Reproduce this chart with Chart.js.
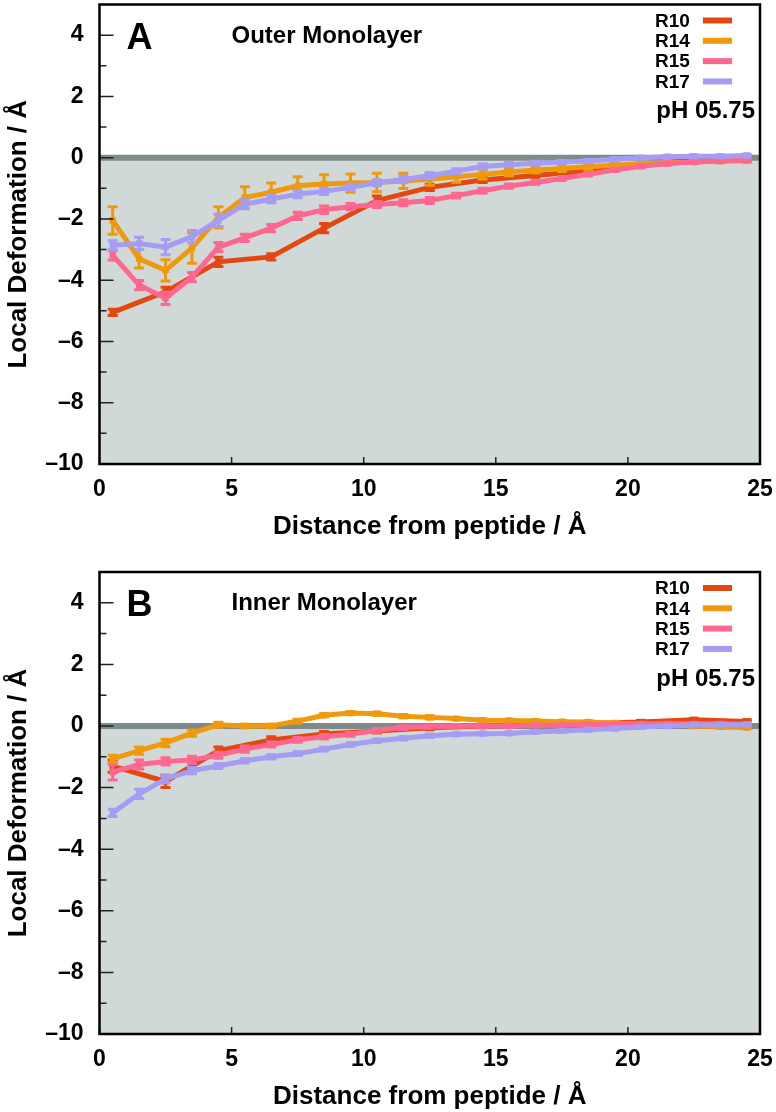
<!DOCTYPE html>
<html>
<head>
<meta charset="utf-8">
<script src="https://cdn.jsdelivr.net/npm/chart.js@4.4.0/dist/chart.umd.min.js"></script>
<style>
  body { margin: 0; background: #fff; width: 776px; height: 1112px; overflow: hidden; }
  canvas { position: absolute; left: 0; }
  #chartA { top: 0; }
  #chartB { top: 556px; }
</style>
</head>
<body>
<canvas id="chartA" width="776" height="556"></canvas>
<canvas id="chartB" width="776" height="556"></canvas>
<script>
// series names and colours
const seriesNames = ['R10', 'R14', 'R15', 'R17'];
const seriesColors = ['#e2480f', '#ef9a0c', '#fe6890', '#a59cf3'];

// distance from peptide (Å)
const distFine = [0.5, 1.5, 2.5, 3.5, 4.5, 5.5, 6.5, 7.5, 8.5, 9.5, 10.5, 11.5, 12.5,
  13.5, 14.5, 15.5, 16.5, 17.5, 18.5, 19.5, 20.5, 21.5, 22.5, 23.5, 24.5];
const distCoarse = [0.5, 2.5, 4.5, 6.5, 8.5, 10.5, 12.5, 14.5, 16.5, 18.5, 20.5, 22.5, 24.5];

// axis ticks
const xTickValues = [0, 5, 10, 15, 20, 25];
const yTickValues = [-10, -8, -6, -4, -2, 0, 2, 4];
const yMinorTicks = [-9, -7, -5, -3, -1, 1, 3];

// panel A: outer monolayer
const outerR10 = [-5.05, -4.38, -3.40, -3.24, -2.30, -1.40, -0.97, -0.73, -0.58, -0.43, -0.25, -0.10, -0.04];
const outerR10Err = [0.10, 0.15, 0.15, 0.10, 0.15, 0.15, 0.10, 0.08, 0.06, 0.05, 0.05, 0.04, 0.03];
const outerR14 = [-2.05, -3.30, -3.68, -2.95, -1.95, -1.30, -1.13, -0.92, -0.86, -0.83, -0.81, -0.76, -0.70,
  -0.62, -0.55, -0.47, -0.40, -0.35, -0.30, -0.25, -0.20, -0.17, -0.14, -0.12, -0.10];
const outerR14Err = [0.45, 0.30, 0.35, 0.50, 0.35, 0.35, 0.30, 0.30, 0.30, 0.30, 0.30, 0.25, 0.20,
  0.18, 0.15, 0.12, 0.10, 0.10, 0.08, 0.07, 0.06, 0.06, 0.05, 0.05, 0.05];
const outerR15 = [-3.19, -4.16, -4.59, -3.90, -2.92, -2.62, -2.30, -1.90, -1.70, -1.60, -1.53, -1.47, -1.40,
  -1.24, -1.08, -0.93, -0.81, -0.68, -0.54, -0.40, -0.28, -0.19, -0.14, -0.10, -0.08];
const outerR15Err = [0.15, 0.15, 0.20, 0.15, 0.15, 0.12, 0.12, 0.12, 0.12, 0.10, 0.10, 0.10, 0.10,
  0.08, 0.08, 0.07, 0.06, 0.06, 0.05, 0.05, 0.05, 0.04, 0.04, 0.03, 0.03];
const outerR17 = [-2.86, -2.80, -2.92, -2.58, -2.05, -1.52, -1.35, -1.19, -1.10, -0.97, -0.82, -0.71, -0.59,
  -0.44, -0.29, -0.23, -0.18, -0.14, -0.11, -0.05, 0.00, 0.03, 0.05, 0.05, 0.07];
const outerR17Err = [0.15, 0.20, 0.25, 0.20, 0.20, 0.15, 0.12, 0.12, 0.10, 0.10, 0.10, 0.10, 0.10,
  0.08, 0.08, 0.07, 0.06, 0.05, 0.05, 0.05, 0.04, 0.04, 0.04, 0.04, 0.04];

// panel B: inner monolayer
const innerR10 = [-1.30, -1.80, -0.80, -0.45, -0.26, -0.16, -0.06, 0.00, 0.04, 0.08, 0.13, 0.20, 0.15];
const innerR10Err = [0.20, 0.20, 0.12, 0.10, 0.08, 0.07, 0.06, 0.05, 0.05, 0.05, 0.05, 0.05, 0.05];
const innerR14 = [-1.07, -0.80, -0.55, -0.23, 0.04, 0.00, 0.00, 0.16, 0.35, 0.42, 0.40, 0.32, 0.28,
  0.24, 0.19, 0.18, 0.16, 0.14, 0.13, 0.10, 0.06, 0.03, 0.00, -0.03, -0.05];
const innerR14Err = [0.12, 0.12, 0.12, 0.10, 0.08, 0.06, 0.06, 0.06, 0.05, 0.05, 0.05, 0.05, 0.05,
  0.04, 0.04, 0.04, 0.04, 0.04, 0.04, 0.04, 0.04, 0.04, 0.04, 0.04, 0.04];
const innerR15 = [-1.50, -1.25, -1.15, -1.10, -0.95, -0.75, -0.60, -0.45, -0.35, -0.27, -0.14, -0.05, -0.02,
  -0.01, 0.00, 0.00, 0.02, 0.03, 0.05, 0.06, 0.07, 0.07, 0.07, 0.07, 0.06];
const innerR15Err = [0.25, 0.15, 0.12, 0.12, 0.10, 0.10, 0.08, 0.08, 0.07, 0.06, 0.06, 0.06, 0.05,
  0.05, 0.05, 0.05, 0.04, 0.04, 0.04, 0.04, 0.04, 0.04, 0.04, 0.04, 0.04];
const innerR17 = [-2.82, -2.20, -1.72, -1.45, -1.30, -1.13, -1.00, -0.90, -0.75, -0.60, -0.48, -0.40, -0.32,
  -0.27, -0.25, -0.24, -0.19, -0.16, -0.12, -0.08, -0.03, 0.00, 0.03, 0.03, 0.05];
const innerR17Err = [0.12, 0.15, 0.12, 0.10, 0.08, 0.07, 0.07, 0.06, 0.06, 0.05, 0.05, 0.05, 0.05,
  0.04, 0.04, 0.04, 0.04, 0.04, 0.04, 0.04, 0.04, 0.04, 0.04, 0.04, 0.04];

const FONT = "'Liberation Sans', Arial, Helvetica, sans-serif";

function toPoints(xs, ys) {
  return xs.map((x, i) => ({ x: x, y: ys[i] }));
}

// background, zero line, error bars, inner ticks, frame and labels
const panelDecor = {
  id: 'panelDecor',
  beforeDatasetsDraw(chart) {
    const { ctx, chartArea: a, scales: { y } } = chart;
    const y0 = y.getPixelForValue(0);
    ctx.save();
    ctx.fillStyle = '#d1d9d8';
    ctx.fillRect(a.left, y0, a.right - a.left, a.bottom - y0);
    ctx.strokeStyle = '#7d8b8a';
    ctx.lineWidth = 6;
    ctx.beginPath();
    ctx.moveTo(a.left, y0);
    ctx.lineTo(a.right, y0);
    ctx.stroke();
    ctx.restore();
  },
  afterDatasetDraw(chart, args) {
    const ds = chart.data.datasets[args.index];
    const { ctx, scales: { x, y } } = chart;
    ctx.save();
    ctx.strokeStyle = ds.borderColor;
    ctx.lineWidth = 3;
    ds.data.forEach((p, i) => {
      const e = ds.errors[i];
      const px = x.getPixelForValue(p.x);
      const yt = y.getPixelForValue(p.y + e);
      const yb = y.getPixelForValue(p.y - e);
      ctx.beginPath();
      ctx.moveTo(px, yt); ctx.lineTo(px, yb);
      ctx.moveTo(px - 5, yt); ctx.lineTo(px + 5, yt);
      ctx.moveTo(px - 5, yb); ctx.lineTo(px + 5, yb);
      ctx.stroke();
    });
    ctx.restore();
  },
  afterDraw(chart, args, opts) {
    const { ctx, chartArea: a, scales: { x, y } } = chart;
    ctx.save();
    // inner ticks
    ctx.strokeStyle = '#222';
    ctx.lineWidth = 1.5;
    ctx.beginPath();
    yTickValues.forEach(v => {
      const py = y.getPixelForValue(v);
      ctx.moveTo(a.left, py); ctx.lineTo(a.left + 14, py);
    });
    yMinorTicks.forEach(v => {
      const py = y.getPixelForValue(v);
      ctx.moveTo(a.left, py); ctx.lineTo(a.left + 7, py);
    });
    xTickValues.forEach(v => {
      const px = x.getPixelForValue(v);
      ctx.moveTo(px, a.bottom); ctx.lineTo(px, a.bottom - 7);
    });
    ctx.stroke();
    // frame
    ctx.strokeStyle = '#000';
    ctx.lineWidth = 2.5;
    ctx.strokeRect(a.left, a.top, a.right - a.left, a.bottom - a.top);

    // panel letter and title
    ctx.fillStyle = '#000';
    ctx.textBaseline = 'alphabetic';
    ctx.textAlign = 'left';
    ctx.font = 'bold 36px ' + FONT;
    ctx.fillText(opts.letter, a.left + 27, a.top + 44);
    ctx.font = 'bold 24px ' + FONT;
    ctx.fillText(opts.title, a.left + 132, a.top + 38);

    // legend
    ctx.font = 'bold 19px ' + FONT;
    ctx.textBaseline = 'middle';
    seriesNames.forEach((name, i) => {
      const ly = a.top + 16 + i * 20.3;
      ctx.fillStyle = '#000';
      ctx.fillText(name, 655, ly + 1);
      ctx.strokeStyle = seriesColors[i];
      ctx.lineWidth = 6;
      ctx.beginPath();
      ctx.moveTo(703, ly); ctx.lineTo(732, ly);
      ctx.stroke();
    });
    ctx.fillStyle = '#000';
    ctx.font = 'bold 24px ' + FONT;
    ctx.textAlign = 'right';
    ctx.fillText(opts.ph, 755, a.top + 107);
    ctx.restore();
  }
};

function makeChart(id, panel) {
  const datasets = seriesNames.map((name, i) => ({
    label: name,
    data: toPoints(panel.xs[i], panel.values[i]),
    errors: panel.errors[i],
    borderColor: seriesColors[i],
    backgroundColor: seriesColors[i],
    borderWidth: 5,
    pointStyle: 'rect',
    pointRadius: 4.5,
    pointBorderWidth: 0,
    tension: 0,
    order: seriesNames.length - i
  }));

  return new Chart(document.getElementById(id), {
    type: 'line',
    data: { datasets: datasets },
    options: {
      responsive: false,
      animation: false,
      layout: { padding: panel.padding },
      plugins: {
        legend: { display: false },
        tooltip: { enabled: false },
        panelDecor: { letter: panel.letter, title: panel.title, ph: 'pH 05.75' }
      },
      scales: {
        x: {
          type: 'linear',
          min: 0,
          max: 25,
          afterBuildTicks: s => { s.ticks = xTickValues.map(v => ({ value: v })); },
          afterFit: s => { s.height = 78; s.paddingLeft = 0; s.paddingRight = 0; },
          grid: { display: false, drawTicks: false },
          border: { display: false },
          ticks: { padding: 12, color: '#000', font: { family: FONT, size: 23, weight: 'bold' } },
          title: {
            display: true,
            text: 'Distance from peptide / Å',
            color: '#000',
            padding: 0,
            font: { family: FONT, size: 26, weight: 'bold' }
          }
        },
        y: {
          type: 'linear',
          min: -10,
          max: 5,
          afterBuildTicks: s => { s.ticks = yTickValues.map(v => ({ value: v })); },
          afterFit: s => { s.width = 99.5; s.paddingTop = 0; s.paddingBottom = 0; },
          grid: { display: false, drawTicks: false },
          border: { display: false },
          ticks: {
            padding: 16,
            color: '#000',
            font: { family: FONT, size: 23, weight: 'bold' },
            callback: v => (v < 0 ? '–' + Math.abs(v) : String(v))
          },
          title: {
            display: true,
            text: 'Local Deformation / Å',
            color: '#000',
            padding: { top: 3, bottom: 0 },
            font: { family: FONT, size: 26, weight: 'bold' }
          }
        }
      }
    },
    plugins: [panelDecor]
  });
}

makeChart('chartA', {
  letter: 'A',
  title: 'Outer Monolayer',
  padding: { top: 2, right: 16, bottom: 14, left: 0 },
  xs: [distCoarse, distFine, distFine, distFine],
  values: [outerR10, outerR14, outerR15, outerR17],
  errors: [outerR10Err, outerR14Err, outerR15Err, outerR17Err]
});

makeChart('chartB', {
  letter: 'B',
  title: 'Inner Monolayer',
  padding: { top: 16, right: 16, bottom: 0, left: 0 },
  xs: [distCoarse, distFine, distFine, distFine],
  values: [innerR10, innerR14, innerR15, innerR17],
  errors: [innerR10Err, innerR14Err, innerR15Err, innerR17Err]
});
</script>
</body>
</html>
